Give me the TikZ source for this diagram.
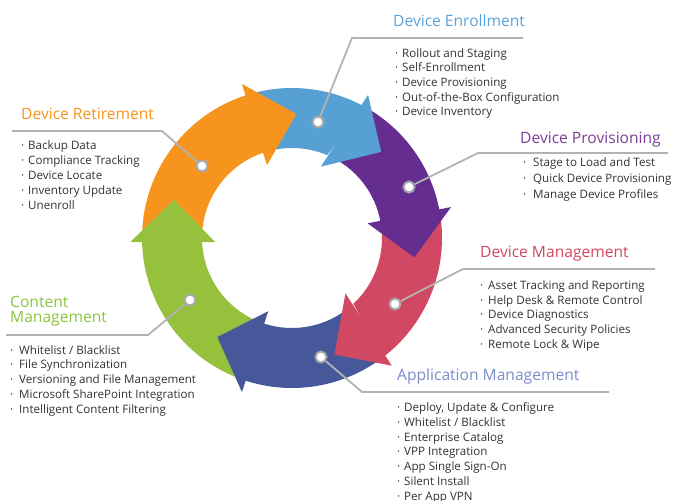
\documentclass[tikz,border=0pt]{standalone}
\usepackage{fontspec}
\setmainfont{Open Sans}
\definecolor{cOrange}{HTML}{F7941E}
\definecolor{cBlue}{HTML}{56A0D3}
\definecolor{cPurple}{HTML}{662D91}
\definecolor{cRed}{HTML}{D14862}
\definecolor{cDBlue}{HTML}{46589A}
\definecolor{cGreen}{HTML}{95C13D}
\definecolor{tEnroll}{HTML}{5AA3DA}
\definecolor{tProv}{HTML}{7D3F98}
\definecolor{tRet}{HTML}{F7941D}
\definecolor{tCont}{HTML}{8DC63F}
\definecolor{tMgmt}{HTML}{D2475F}
\definecolor{tApp}{HTML}{7C8CCB}
\definecolor{txt}{HTML}{333333}
\definecolor{linegray}{HTML}{B3B3B3}
\definecolor{dotgray}{HTML}{A7A9AC}
% body: colour, start outer, start inner, end outer, end inner
\newcommand{\rbody}[5]{\fill[#1] (#2:150) arc[start angle=#2,end angle=#4,radius=150] -- (#5:90) arc[start angle=#5,end angle=#3,radius=90] -- cycle;}
% head: colour, outer barb angle, tip angle, inner barb angle
\newcommand{\rhead}[4]{\fill[#1] (#2:162) -- (#3:124) -- (#4:77) -- cycle;}
% list: prefix, bullet x, text x, first baseline, step, items
\newcommand{\itemlist}[6]{%
  \foreach \t [count=\k from 0] in {#6} {%
    \node[item] (#1b\k) at (#2,{-(#4+\k*#5)}) {·};
    \node[item] (#1t\k) at (#3,{-(#4+\k*#5)}) {\t};
  }}
\begin{document}
\begin{tikzpicture}[x=1pt,y=1pt,
  item/.style={anchor=base west, inner sep=0, font=\fontsize{11.6}{13}\selectfont, text=txt},
  ttl/.style={anchor=base west, inner sep=0, font=\fontsize{15.6}{17}\selectfont},
  conn/.style={draw=linegray, line width=1.8pt},
  dot/.style={circle, fill=white, draw=dotgray, line width=2pt, minimum size=11pt, inner sep=0}]
\useasboundingbox (0,0) rectangle (678,-501);
\fill[white] (0,0) rectangle (678,-501);

\begin{scope}[shift={(292,-238)}]
  \rbody{cOrange}{179.5}{181}{107}{108}
  \rbody{cBlue}{106}{107}{61}{67}
  \rbody{cPurple}{60}{66}{10}{10}
  \rbody{cRed}{9}{9}{-53}{-47}
  \rbody{cDBlue}{-54}{-48}{-109}{-109}
  \rbody{cGreen}{-110}{-110}{-179.5}{-178}
  \rhead{cOrange}{108}{88}{109}
  \rhead{cBlue}{62}{44}{68}
  \rhead{cPurple}{11}{-9}{11}
  \rhead{cRed}{-52}{-70}{-46}
  \rhead{cDBlue}{-108}{-127}{-108}
  \rhead{cGreen}{-178.5}{-198}{-177}
\end{scope}

% dots
\node[dot] (dE) at (318,-122) {};
\node[dot] (dR) at (202,-166) {};
\node[dot] (dP) at (409,-187) {};
\node[dot] (dM) at (395,-304) {};
\node[dot] (dA) at (321,-357) {};
\node[dot] (dC) at (190,-300) {};

% connector corners
\coordinate (cE1) at (352,-38);  \coordinate (cE2) at (523,-38);
\coordinate (cR1) at (162,-131); \coordinate (cR2) at (12,-131);
\coordinate (cP1) at (478,-153); \coordinate (cP2) at (668,-153);
\coordinate (cM1) at (463,-269); \coordinate (cM2) at (655,-269);
\coordinate (cA1) at (362,-392); \coordinate (cA2) at (609,-392);
\coordinate (cC1) at (148,-335); \coordinate (cC2) at (6,-335);

\draw[conn] (dE) -- (cE1) -- (cE2);
\draw[conn] (dR) -- (cR1) -- (cR2);
\draw[conn] (dP) -- (cP1) -- (cP2);
\draw[conn] (dM) -- (cM1) -- (cM2);
\draw[conn] (dA) -- (cA1) -- (cA2);
\draw[conn] (dC) -- (cC1) -- (cC2);

% titles
\node[ttl, text=tEnroll] (tE) at (393,-26) {Device Enrollment};
\node[ttl, text=tProv] (tP) at (520,-143.3) {Device Provisioning};
\node[ttl, text=tRet] (tR) at (21,-119.3) {Device Retirement};
\node[ttl, text=tCont] (tC1) at (10,-307.3) {Content};
\node[ttl, text=tCont] (tC2) at (10,-322.7) {Management};
\node[ttl, text=tMgmt] (tM) at (480,-257.3) {Device Management};
\node[ttl, text=tApp] (tA) at (397,-380.7) {Application Management};

% lists
\itemlist{E}{395}{402}{57.3}{14.6}{Rollout and Staging,Self-Enrollment,Device Provisioning,Out-of-the-Box Configuration,Device Inventory}
\itemlist{P}{523}{533}{166.7}{15.8}{Stage to Load and Test,Quick Device Provisioning,Manage Device Profiles}
\itemlist{R}{21}{28}{149.3}{15}{Backup Data,Compliance Tracking,Device Locate,Inventory Update,Unenroll}
\itemlist{C}{10}{19}{354}{14.8}{Whitelist / Blacklist,File Synchronization,Versioning and File Management,Microsoft SharePoint Integration,Intelligent Content Filtering}
\itemlist{M}{480}{488}{289.3}{14.7}{Asset Tracking and Reporting,Help Desk \& Remote Control,Device Diagnostics,Advanced Security Policies,Remote Lock \& Wipe}
\itemlist{A}{397}{404}{411.7}{14.75}{{Deploy, Update \& Configure},Whitelist / Blacklist,Enterprise Catalog,VPP Integration,App Single Sign-On,Silent Install,Per App VPN}
\end{tikzpicture}
\end{document}
